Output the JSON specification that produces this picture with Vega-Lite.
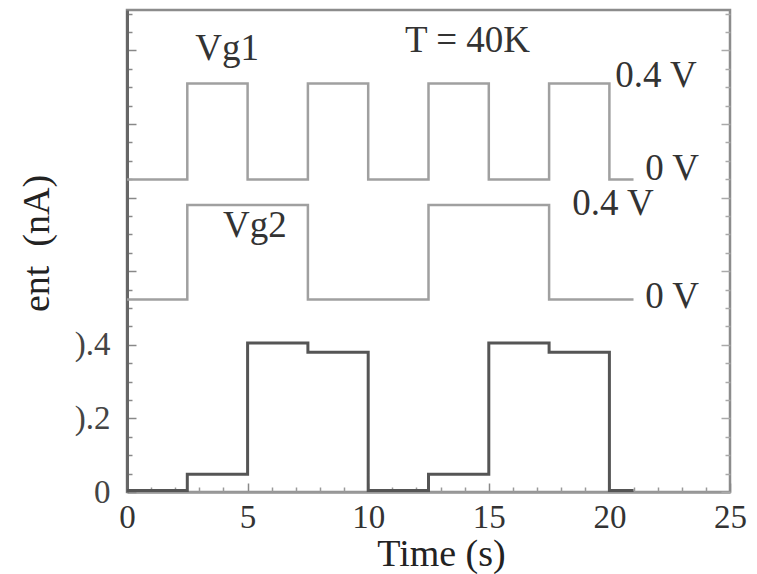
{
  "$schema": "https://vega.github.io/schema/vega-lite/v6.json",
  "width": 603,
  "height": 482,
  "autosize": {"type": "none"},
  "padding": {"left": 127, "top": 10, "right": 27, "bottom": 82},
  "background": "white",
  "config": {"view": {"stroke": "#8c8c8c", "strokeWidth": 2.5}, "font": "Liberation Serif", "axis": {"labelOverlap": false, "labelFlush": false}},
  "datasets": {
    "traces": [
      {"s": "Vg1", "t": 0, "v": 0.849},
      {"s": "Vg1", "t": 2.5, "v": 1.11},
      {"s": "Vg1", "t": 5, "v": 0.849},
      {"s": "Vg1", "t": 7.5, "v": 1.11},
      {"s": "Vg1", "t": 10, "v": 0.849},
      {"s": "Vg1", "t": 12.5, "v": 1.11},
      {"s": "Vg1", "t": 15, "v": 0.849},
      {"s": "Vg1", "t": 17.5, "v": 1.11},
      {"s": "Vg1", "t": 20, "v": 0.849},
      {"s": "Vg1", "t": 21, "v": 0.849},
      {"s": "Vg2", "t": 0, "v": 0.523},
      {"s": "Vg2", "t": 2.5, "v": 0.78},
      {"s": "Vg2", "t": 7.5, "v": 0.523},
      {"s": "Vg2", "t": 12.5, "v": 0.78},
      {"s": "Vg2", "t": 17.5, "v": 0.523},
      {"s": "Vg2", "t": 21, "v": 0.523},
      {"s": "I", "t": 0, "v": 0.004},
      {"s": "I", "t": 2.5, "v": 0.048},
      {"s": "I", "t": 5, "v": 0.405},
      {"s": "I", "t": 7.5, "v": 0.38},
      {"s": "I", "t": 10, "v": 0.004},
      {"s": "I", "t": 12.5, "v": 0.048},
      {"s": "I", "t": 15, "v": 0.405},
      {"s": "I", "t": 17.5, "v": 0.38},
      {"s": "I", "t": 20, "v": 0.004},
      {"s": "I", "t": 21, "v": 0.004}
    ],
    "labels": [
      {"t": 4.15, "v": 1.174, "text": "Vg1"},
      {"t": 14.12, "v": 1.196, "text": "T = 40K"},
      {"t": 21.93, "v": 1.101, "text": "0.4 V"},
      {"t": 22.6, "v": 0.848, "text": "0 V"},
      {"t": 20.15, "v": 0.753, "text": "0.4 V"},
      {"t": 5.3, "v": 0.693, "text": "Vg2"},
      {"t": 22.6, "v": 0.5, "text": "0 V"}
    ]
  },
  "layer": [
    {
      "data": {"name": "traces"},
      "transform": [{"filter": "datum.s === 'I'"}],
      "mark": {"type": "line", "interpolate": "step-after", "color": "#555555", "strokeWidth": 3},
      "encoding": {
        "x": {
          "field": "t", "type": "quantitative",
          "scale": {"domain": [0, 25], "nice": false, "zero": false},
          "axis": {
            "values": [0,5,10,15,20,25],
            "tickSize": -9,
            "tickColor": "#888888", "tickWidth": 1.5,
            "domainColor": "#999999", "domainWidth": 2.5,
            "grid": false, "labelFlush": false, "labelOverlap": false,
            "labelFont": "Liberation Serif", "labelFontSize": 33, "labelColor": "#333333",
            "labelPadding": 18,
            "title": "Time (s)", "titleFont": "Liberation Serif", "titleFontSize": 38,
            "titleFontWeight": "normal", "titleColor": "#222222",
            "titleX": 314, "titleY": 73, "titleBaseline": "alphabetic", "titleAlign": "center"
          }
        },
        "y": {
          "field": "v", "type": "quantitative",
          "scale": {"domain": [0, 1.31], "nice": false, "zero": false},
          "axis": {
            "values": [0,0.05,0.1,0.15,0.2,0.25,0.3,0.35,0.4,0.45,0.5,0.55,0.6,0.65,0.7,0.75,0.8,0.85,0.9,0.95,1,1.05,1.1,1.15,1.2,1.25,1.3],
            "labelExpr": "datum.value === 0 ? '0' : datum.value === 0.2 ? ').2' : datum.value === 0.4 ? ').4' : ''",
            "tickSize": {"condition": {"test": "indexof([0,0.2,0.4,0.6,0.8,1,1.2], datum.value) >= 0", "value": -9}, "value": -5},
            "tickColor": "#888888", "tickWidth": 1.5,
            "domainColor": "#666666", "domainWidth": 3,
            "grid": false, "labelFlush": false, "labelOverlap": false,
            "labelFont": "Liberation Serif", "labelFontSize": 33, "labelColor": "#444444",
            "labelPadding": 26,
            "title": "ent\u00a0\u00a0(nA)", "titleFont": "Liberation Serif", "titleFontSize": 38,
            "titleFontWeight": "normal", "titleColor": "#222222",
            "titleX": -79, "titleY": 233, "titleBaseline": "alphabetic", "titleAlign": "center", "titleAngle": -90
          }
        }
      }
    },
    {
      "data": {"name": "traces"},
      "transform": [{"filter": "datum.s !== 'I'"}],
      "mark": {"type": "line", "interpolate": "step-after", "color": "#a0a0a0", "strokeWidth": 2.5},
      "encoding": {
        "x": {
          "field": "t", "type": "quantitative",
          "axis": {
            "orient": "bottom",
            "values": [1,2,3,4,6,7,8,9,11,12,13,14,16,17,18,19,21,22,23,24],
            "labels": false, "domain": false, "grid": false, "title": null,
            "tickSize": -5, "tickColor": "#999999", "tickWidth": 1.5
          }
        },
        "y": {
          "field": "v", "type": "quantitative",
          "axis": {
            "orient": "right",
            "values": [0,0.05,0.1,0.15,0.2,0.25,0.3,0.35,0.4,0.45,0.5,0.55,0.6,0.65,0.7,0.75,0.8,0.85,0.9,0.95,1,1.05,1.1,1.15,1.2,1.25,1.3],
            "labels": false, "domain": false, "grid": false, "title": null,
            "tickSize": {"condition": {"test": "indexof([0,0.2,0.4,0.6,0.8,1,1.2], datum.value) >= 0", "value": -9}, "value": -5},
            "tickColor": "#aaaaaa", "tickWidth": 1.5
          }
        },
        "detail": {"field": "s", "type": "nominal"}
      }
    },
    {
      "data": {"name": "labels"},
      "mark": {"type": "text", "font": "Liberation Serif", "fontSize": 37, "baseline": "alphabetic", "align": "center", "color": "#333333"},
      "encoding": {
        "x": {"field": "t", "type": "quantitative", "axis": null},
        "y": {"field": "v", "type": "quantitative", "axis": null},
        "text": {"field": "text", "type": "nominal"}
      }
    }
  ],
  "resolve": {"axis": {"x": "independent", "y": "independent"}}
}
